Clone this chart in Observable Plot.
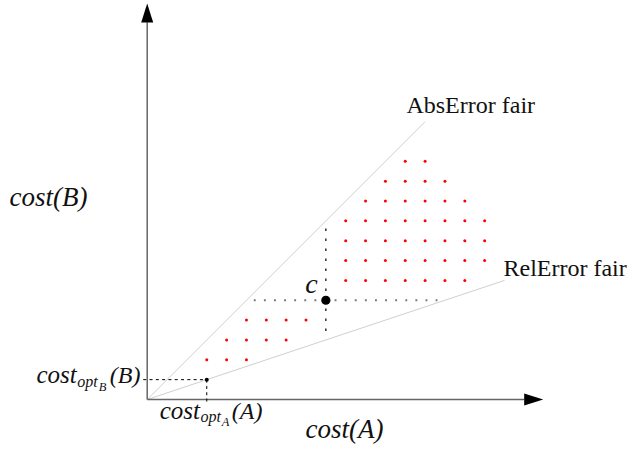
<!DOCTYPE html>
<html>
<head>
<meta charset="utf-8">
<script src="https://cdn.jsdelivr.net/npm/d3@7"></script>
<script src="https://cdn.jsdelivr.net/npm/@observablehq/plot@0.6"></script>
<style>
  html, body { margin: 0; padding: 0; background: #fff; }
</style>
</head>
<body>
<div id="chart"></div>
<script>
// ---- data (grid units) ----
const rowY = [12, 11, 10, 9, 8, 7, 6, 4, 3, 2];
const rowX = [
  [13, 14],
  [12, 13, 14, 15],
  [11, 12, 13, 14, 15, 16],
  [10, 11, 12, 13, 14, 15, 16, 17],
  [10, 11, 12, 13, 14, 15, 16, 17],
  [10, 11, 12, 13, 14, 15, 16, 17],
  [10, 11, 12, 13, 14, 15, 16],
  [5, 6, 7, 8],
  [4, 5, 6, 7],
  [3, 4, 5]
];
const pointC = {x: 9, y: 5};
const pointOpt = {x: 3, y: 1};
const absFairEnd = {x: 14, y: 14};
const relFairEnd = {x: 18, y: 6};
const axisMax = 20;
const cHoriz = [5.37, 14.62];
const cVert = [3.38, 8.61];

const redPoints = rowY.flatMap((y, i) => rowX[i].map(x => ({x, y})));

const arrowHead = {
  draw(ctx) {
    ctx.moveTo(0, 0);
    ctx.lineTo(-6, 19);
    ctx.lineTo(6, 19);
    ctx.closePath();
  }
};

const T = (text, o) => Plot.text([text], {fontFamily: "Liberation Serif", fill: "#111", lineAnchor: "bottom", ...o});

const chart = Plot.plot({
  width: 630,
  height: 450,
  margin: 0,
  x: {domain: [0, 20], range: [146.7, 543.7], axis: null},
  y: {domain: [0, 20], range: [399, 2], axis: null},
  marks: [
    // fairness lines
    Plot.link([0], {x1: 0, y1: 0, x2: absFairEnd.x, y2: absFairEnd.y, stroke: "#cfcfcf", strokeWidth: 1}),
    Plot.link([0], {x1: 0, y1: 0, x2: relFairEnd.x, y2: relFairEnd.y, stroke: "#cfcfcf", strokeWidth: 1}),
    // axes
    Plot.link([0], {x1: 0, y1: 0, x2: 0, y2: axisMax - 1, stroke: "#666", strokeWidth: 1.5}),
    Plot.link([0], {x1: 0, y1: 0, x2: axisMax - 1, y2: 0, stroke: "#666", strokeWidth: 1.5}),
    Plot.dot([0], {x: 0, y: axisMax - 0.05, symbol: arrowHead, fill: "#000", stroke: null, rotate: 0}),
    Plot.dot([0], {x: axisMax - 0.05, y: 0, symbol: arrowHead, fill: "#000", stroke: null, rotate: 90}),
    // dashed guides to opt
    Plot.link([0], {x1: -0.2, y1: pointOpt.y, x2: pointOpt.x, y2: pointOpt.y, stroke: "#000", strokeWidth: 1, strokeDasharray: "3,3.3"}),
    Plot.link([0], {x1: pointOpt.x, y1: pointOpt.y, x2: pointOpt.x, y2: -0.17, stroke: "#000", strokeWidth: 1, strokeDasharray: "3,3.3"}),
    // dotted guides through c
    Plot.link([0], {x1: cHoriz[0], y1: pointC.y, x2: cHoriz[1], y2: pointC.y, stroke: "#777", strokeWidth: 1.9, strokeDasharray: "1.9,8.2"}),
    Plot.link([0], {x1: pointC.x, y1: cVert[1], x2: pointC.x, y2: cVert[0], stroke: "#111", strokeWidth: 1.3, strokeDasharray: "2.5,7.5"}),
    // red candidate points
    Plot.dot(redPoints, {x: "x", y: "y", r: 1.5, fill: "#ff0000", stroke: null}),
    // special points
    Plot.dot([pointC], {x: "x", y: "y", r: 4.6, fill: "#000", stroke: null}),
    Plot.dot([pointOpt], {x: "x", y: "y", r: 2, fill: "#000", stroke: null}),
    // labels
    T("cost(B)", {x: -4.97, y: 9.77, fontSize: 27, fontStyle: "italic", textAnchor: "middle"}),
    T("cost(A)", {x: 9.94, y: -1.96, fontSize: 27, fontStyle: "italic", textAnchor: "middle"}),
    T("c", {x: 8.28, y: 5.39, fontSize: 28, fontStyle: "italic", textAnchor: "middle"}),
    T("AbsError fair", {x: 13.06, y: 14.41, fontSize: 24, textAnchor: "start"}),
    T("RelError fair", {x: 17.95, y: 6.22, fontSize: 24, textAnchor: "start"}),
    // cost_{opt_B}(B)
    T("cost", {x: -3.55, y: 0.81, fontSize: 25, fontStyle: "italic", textAnchor: "end"}),
    T("opt", {x: -3.53, y: 0.63, fontSize: 16, fontStyle: "italic", textAnchor: "start"}),
    T("B", {x: -2.44, y: 0.45, fontSize: 12.5, fontStyle: "italic", textAnchor: "start"}),
    T("(B)", {x: -0.34, y: 0.81, fontSize: 24, fontStyle: "italic", textAnchor: "end"}),
    // cost_{opt_A}(A)
    T("cost", {x: 2.66, y: -0.96, fontSize: 25, fontStyle: "italic", textAnchor: "end"}),
    T("opt", {x: 2.68, y: -1.13, fontSize: 16, fontStyle: "italic", textAnchor: "start"}),
    T("A", {x: 3.76, y: -1.31, fontSize: 12.5, fontStyle: "italic", textAnchor: "start"}),
    T("(A)", {x: 5.81, y: -0.96, fontSize: 24, fontStyle: "italic", textAnchor: "end"})
  ]
});

document.getElementById("chart").appendChild(chart);
</script>
</body>
</html>
